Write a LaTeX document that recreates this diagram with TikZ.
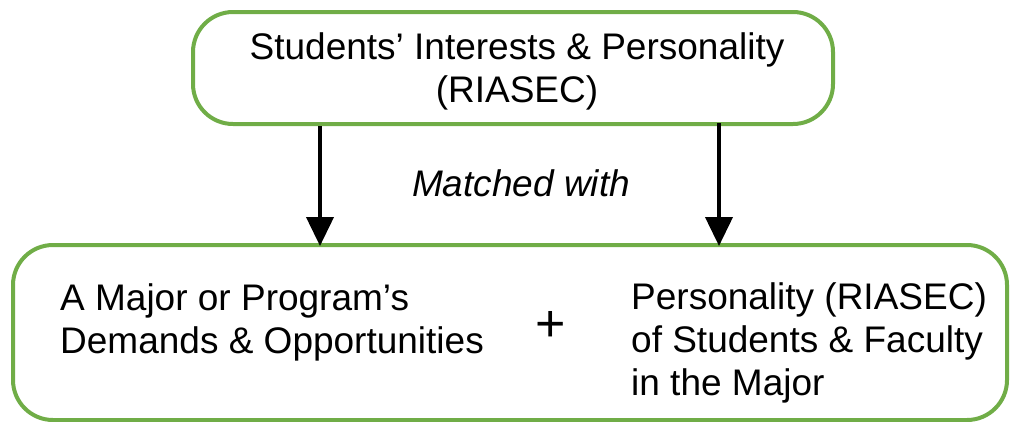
\documentclass[tikz,border=0pt]{standalone}
\usepackage{fontspec}
\setmainfont{Liberation Sans}
\usetikzlibrary{arrows.meta}
\definecolor{boxgreen}{RGB}{112,173,71}
\begin{document}
\begin{tikzpicture}[x=1pt,y=-1pt,
  box/.style={draw=boxgreen,line width=4pt,rounded corners=40pt,inner sep=0pt},
  txt/.style={font=\fontsize{37}{43}\selectfont,inner sep=0pt},
  arr/.style={line width=4pt,-{Triangle[length=29pt,width=27pt]}}]
\useasboundingbox (0,0) rectangle (1011,421);
\node[box,minimum width=640pt,minimum height=112pt] (top) at (513,68) {};
\node[txt,align=center,text depth=0pt] (toptxt) at (517,68) {Students’ Interests \& Personality\\(RIASEC)};
\node[box,minimum width=994pt,minimum height=175pt] (bot) at (510,332.5) {};
\node[txt,align=left,anchor=north west] (left) at (60,283) {A Major or Program’s\\Demands \& Opportunities};
\node[txt,font=\fontsize{52}{60}\selectfont] (plus) at (551,326) {+};
\node[txt,align=left,anchor=north west] (right) at (631,282) {Personality (RIASEC)\\of Students \& Faculty\\in the Major};
\node[txt,font=\fontsize{37}{43}\selectfont\itshape] (match) at (521,183) {Matched with};
\coordinate (a1) at (320,0);
\coordinate (a2) at (719,0);
\draw[arr] (top.south -| a1) -- ([yshift=-3pt]bot.north -| a1);
\draw[arr] ([yshift=3pt]top.south -| a2) -- ([yshift=-3pt]bot.north -| a2);
\end{tikzpicture}
\end{document}
